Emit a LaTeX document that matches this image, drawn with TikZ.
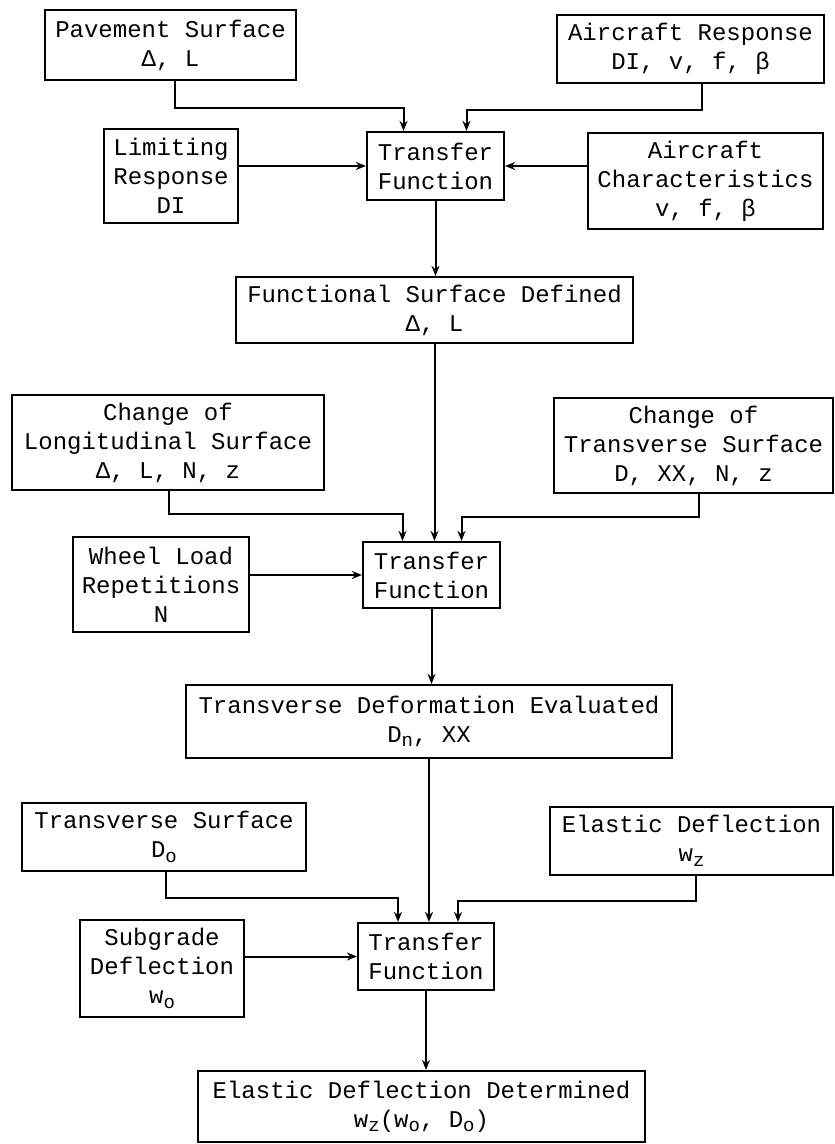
\documentclass[tikz,border=0pt]{standalone}
\usepackage{fontspec}
\setmonofont{Liberation Mono}
\usetikzlibrary{arrows.meta}

\newcommand{\lowidx}[1]{\raisebox{-0.35ex}{\fontsize{19}{19}\selectfont #1}}

\tikzset{
    blk/.style={draw,line width=2.2pt,align=center,inner sep=0pt,
        font=\fontsize{24}{29}\selectfont\ttfamily},
    arr/.style={-{Stealth[length=10pt,width=8pt]},line width=2pt}
}

\begin{document}
\begin{tikzpicture}[x=1pt,y=-1pt]
        \useasboundingbox (0,0) rectangle (835,1144);
        % first stage
        \node[blk,minimum width=251,minimum height=70] (pave) at (170.5,45) {Pavement Surface\\Δ, L};
        \node[blk,minimum width=267,minimum height=68] (acresp) at (690.5,49) {Aircraft Response\\DI, v, f, β};
        \node[blk,minimum width=134,minimum height=94] (limit) at (171,176) {Limiting\\Response\\DI};
        \node[blk,minimum width=137,minimum height=68] (tfa) at (435.5,166) {Transfer\\Function};
        \node[blk,minimum width=235,minimum height=96] (acchar) at (705.5,181) {Aircraft\\Characteristics\\v, f, β};
        \node[blk,minimum width=397,minimum height=66] (fsd) at (434.5,310) {Functional Surface Defined\\Δ, L};
        % second stage
        \node[blk,minimum width=312,minimum height=95] (clong) at (168,442.5) {Change of\\Longitudinal Surface\\Δ, L, N, z};
        \node[blk,minimum width=279,minimum height=95] (ctrans) at (693.5,445.5) {Change of\\Transverse Surface\\D, XX, N, z};
        \node[blk,minimum width=176,minimum height=95] (wheel) at (161,584.5) {Wheel Load\\Repetitions\\N};
        \node[blk,minimum width=137,minimum height=66] (tfb) at (431.5,575) {Transfer\\Function};
        \node[blk,minimum width=486,minimum height=73] (tde) at (429,721.5) {Transverse Deformation Evaluated\\D\lowidx{n}, XX};
        % third stage
        \node[blk,minimum width=284,minimum height=68] (tsurf) at (164,837) {Transverse Surface\\D\lowidx{o}};
        \node[blk,minimum width=283,minimum height=68] (edefl) at (691.5,841) {Elastic Deflection\\w\lowidx{z}};
        \node[blk,minimum width=164,minimum height=97] (subg) at (162,968.5) {Subgrade\\Deflection\\w\lowidx{o}};
        \node[blk,minimum width=136,minimum height=67] (tfc) at (426,956.5) {Transfer\\Function};
        \node[blk,minimum width=447,minimum height=71] (edd) at (421.5,1106.5) {Elastic Deflection Determined\\w\lowidx{z}(w\lowidx{o}, D\lowidx{o})};

        \draw[arr] ([xshift=4]pave.south) -- ++(0,27) -| ([xshift=-32]tfa.north);
        \draw[arr] ([xshift=11]acresp.south) -- ++(0,26) -| ([xshift=31]tfa.north);
        \draw[arr] (limit.east |- tfa.west) -- (tfa.west);
        \draw[arr] (acchar.west |- tfa.east) -- (tfa.east);
        \draw[arr] (tfa.south) -- (tfa.south |- fsd.north);

        \draw[arr] ([xshift=1]clong.south) -- ++(0,23) -| ([xshift=-29]tfb.north);
        \draw[arr] ([xshift=5]ctrans.south) -- ++(0,23) -| ([xshift=30]tfb.north);
        \draw[arr] (fsd.south) -- (fsd.south |- tfb.north);
        \draw[arr] (wheel.east |- tfb.west) -- (tfb.west);
        \draw[arr] (tfb.south) -- (tfb.south |- tde.north);

        \draw[arr] ([xshift=2]tsurf.south) -- ++(0,26) -| ([xshift=-28]tfc.north);
        \draw[arr] ([xshift=4]edefl.south) -- ++(0,25) -| ([xshift=32]tfc.north);
        \draw[arr] (tde.south) -- (tde.south |- tfc.north);
        \draw[arr] (subg.east |- tfc.west) -- (tfc.west);
        \draw[arr] (tfc.south) -- (tfc.south |- edd.north);
    \end{tikzpicture}
\end{document}
